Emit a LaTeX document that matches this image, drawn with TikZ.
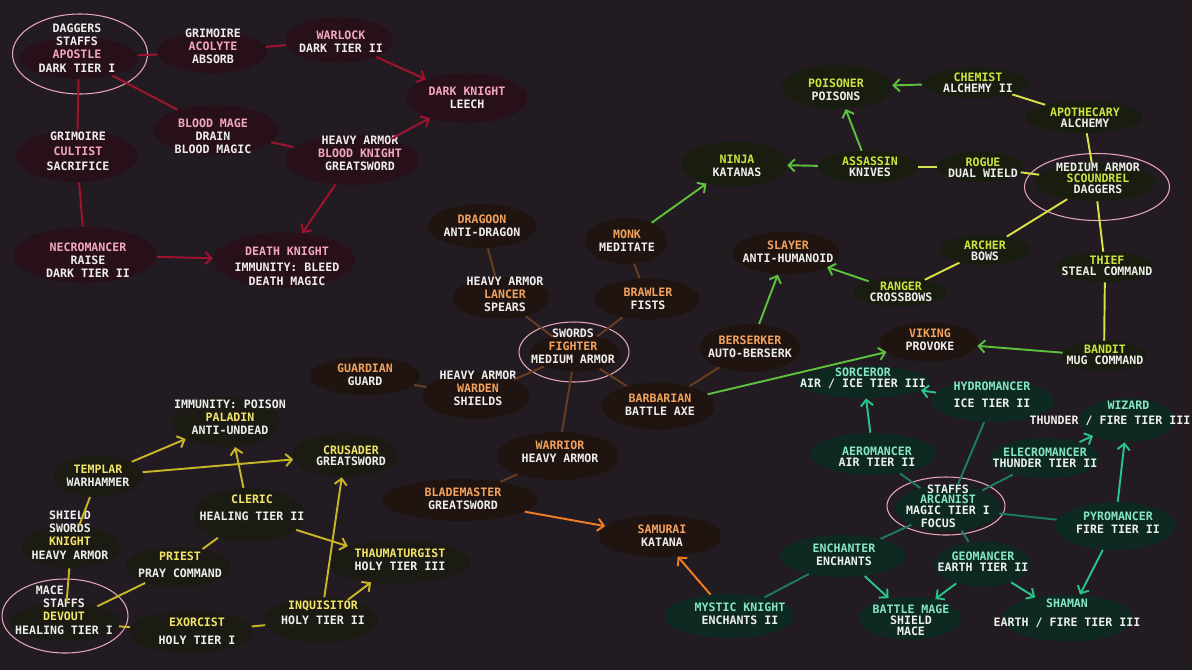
\documentclass[tikz,border=0pt]{standalone}
\usepackage{fontspec}
\setmonofont{DejaVu Sans Mono}
\usetikzlibrary{arrows.meta,positioning,shapes.geometric}

\definecolor{bgc}{HTML}{221B21}
\definecolor{txtc}{HTML}{EEEEEE}
\definecolor{dkfill}{HTML}{28101A}
\definecolor{dkname}{HTML}{F4A6C0}
\definecolor{dkline}{HTML}{A3122E}
\definecolor{ogfill}{HTML}{1F140F}
\definecolor{ogname}{HTML}{F2A25E}
\definecolor{ogline}{HTML}{6A3D20}
\definecolor{ogarrow}{HTML}{F07D22}
\definecolor{rgfill}{HTML}{181D0F}
\definecolor{rgname}{HTML}{CFE23F}
\definecolor{rgline}{HTML}{D9E146}
\definecolor{grarrow}{HTML}{5CC13C}
\definecolor{hlfill}{HTML}{1B1A13}
\definecolor{hlname}{HTML}{F2E36A}
\definecolor{hlline}{HTML}{C9B628}
\definecolor{mgfill}{HTML}{0E2921}
\definecolor{mgname}{HTML}{86E6C4}
\definecolor{mgline}{HTML}{1B7D60}
\definecolor{mgarrow}{HTML}{27C48C}
\definecolor{ringc}{HTML}{E6A6B8}

\newcommand\dkn[1]{\textcolor{dkname}{#1}}
\newcommand\ogn[1]{\textcolor{ogname}{#1}}
\newcommand\rgn[1]{\textcolor{rgname}{#1}}
\newcommand\hln[1]{\textcolor{hlname}{#1}}
\newcommand\mgn[1]{\textcolor{mgname}{#1}}

\tikzset{
  blob/.style={ellipse, inner sep=0pt, draw=none},
  sz/.style 2 args={minimum width=#1*0.02cm, minimum height=#2*0.02cm},
  dkcls/.style={blob, fill=dkfill},
  ogcls/.style={blob, fill=ogfill},
  rgcls/.style={blob, fill=rgfill},
  hlcls/.style={blob, fill=hlfill},
  mgcls/.style={blob, fill=mgfill},
  ring/.style={ellipse, draw=ringc, line width=0.6pt, inner sep=0pt},
  txt/.style={text=txtc, align=center, inner sep=0pt, font=\ttfamily\bfseries\fontsize{6.6}{7.5}\selectfont},
  tight/.style={font=\ttfamily\bfseries\fontsize{6.6}{6.2}\selectfont},
  link/.style={line width=1.1pt},
  arr/.style={link, -{Straight Barb[length=3.5pt,width=7pt]}},
  dkl/.style={link, draw=dkline}, dka/.style={arr, draw=dkline},
  ogl/.style={link, draw=ogline}, oga/.style={arr, draw=ogarrow},
  rgl/.style={link, draw=rgline}, gra/.style={arr, draw=grarrow},
  hll/.style={link, draw=hlline}, hla/.style={arr, draw=hlline},
  mgl/.style={link, draw=mgline}, mga/.style={arr, draw=mgarrow},
}

\begin{document}
\begin{tikzpicture}[x=0.02cm, y=-0.02cm]
\useasboundingbox (0,0) rectangle (1192,670);
\fill[bgc] (0,0) rectangle (1192,670);

% dark
\node[dkcls, sz={118}{42}] (apostle) at (79,58) {};
\node[ring, sz={135}{80}] (apostle-r) at (80,54) {};
\node[txt] (t-apostle) at (77,48) {DAGGERS\\STAFFS\\\dkn{APOSTLE}\\DARK TIER I};
\node[dkcls, sz={110}{42}] (acolyte) at (212,52) {};
\node[txt] (t-acolyte) at (213,46) {GRIMOIRE\\\dkn{ACOLYTE}\\ABSORB};
\node[dkcls, sz={108}{46}] (warlock) at (339,40) {};
\node[txt] (t-warlock) at (341,42) {\dkn{WARLOCK}\\DARK TIER II};
\node[dkcls, sz={125}{50}] (bloodmage) at (216,130) {};
\node[txt] (t-bloodmage) at (213,136) {\dkn{BLOOD MAGE}\\DRAIN\\BLOOD MAGIC};
\node[dkcls, sz={122}{52}] (cultist) at (77,156) {};
\node[txt] (t-cultist) at (78,151) {GRIMOIRE\\[1pt]\dkn{CULTIST}\\[1pt]SACRIFICE};
\node[dkcls, sz={135}{50}] (bloodknight) at (352,160) {};
\node[txt] (t-bloodknight) at (360,153) {HEAVY ARMOR\\\dkn{BLOOD KNIGHT}\\GREATSWORD};
\node[dkcls, sz={121}{50}] (darkknight) at (467,98) {};
\node[txt] (t-darkknight) at (467,98) {\dkn{DARK KNIGHT}\\LEECH};
\node[dkcls, sz={144}{56}] (necromancer) at (85,255) {};
\node[txt] (t-necromancer) at (88,260) {\dkn{NECROMANCER}\\RAISE\\DARK TIER II};
\node[dkcls, sz={142}{55}] (deathknight) at (284,260) {};
\node[txt] (t-deathknight) at (287,266) {\dkn{DEATH KNIGHT}\\[2pt]IMMUNITY: BLEED\\DEATH MAGIC};

% fighters
\node[ogcls, sz={108}{44}] (dragoon) at (482,226) {};
\node[txt] (t-dragoon) at (482,226) {\ogn{DRAGOON}\\ANTI-DRAGON};
\node[ogcls, sz={82}{46}] (monk) at (626,241) {};
\node[txt] (t-monk) at (627,241) {\ogn{MONK}\\MEDITATE};
\node[ogcls, sz={96}{42}] (lancer) at (501,298) {};
\node[txt] (t-lancer) at (505,294) {HEAVY ARMOR\\\ogn{LANCER}\\SPEARS};
\node[ogcls, sz={105}{41}] (brawler) at (647,299) {};
\node[txt] (t-brawler) at (648,299) {\ogn{BRAWLER}\\FISTS};
\node[ogcls, sz={90}{37}] (fighter) at (575,353) {};
\node[ring, sz={110}{60}] (fighter-r) at (574,352) {};
\node[txt] (t-fighter) at (573,346) {SWORDS\\\ogn{FIGHTER}\\MEDIUM ARMOR};
\node[ogcls, sz={110}{38}] (guardian) at (365,376) {};
\node[txt] (t-guardian) at (365,375) {\ogn{GUARDIAN}\\GUARD};
\node[ogcls, sz={107}{46}] (warden) at (476,396) {};
\node[txt] (t-warden) at (478,388) {HEAVY ARMOR\\\ogn{WARDEN}\\SHIELDS};
\node[ogcls, sz={100}{48}] (berserker) at (750,348) {};
\node[txt] (t-berserker) at (750,347) {\ogn{BERSERKER}\\AUTO-BERSERK};
\node[ogcls, sz={113}{47}] (barbarian) at (658,406) {};
\node[txt] (t-barbarian) at (660,405) {\ogn{BARBARIAN}\\BATTLE AXE};
\node[ogcls, sz={122}{48}] (warrior) at (558,456) {};
\node[txt] (t-warrior) at (560,452) {\ogn{WARRIOR}\\HEAVY ARMOR};
\node[ogcls, sz={154}{42}] (blademaster) at (460,500) {};
\node[txt] (t-blademaster) at (463,499) {\ogn{BLADEMASTER}\\GREATSWORD};
\node[ogcls, sz={123}{42}] (samurai) at (660,536) {};
\node[txt] (t-samurai) at (662,536) {\ogn{SAMURAI}\\KATANA};
\node[ogcls, sz={107}{43}] (slayer) at (786,253) {};
\node[txt] (t-slayer) at (788,252) {\ogn{SLAYER}\\ANTI-HUMANOID};
\node[ogcls, sz={98}{39}] (viking) at (929,342) {};
\node[txt] (t-viking) at (930,340) {\ogn{VIKING}\\PROVOKE};

% rogues
\node[rgcls, sz={106}{45}] (ninja) at (734,164) {};
\node[txt] (t-ninja) at (737,166) {\rgn{NINJA}\\KATANAS};
\node[rgcls, sz={110}{44}] (poisoner) at (837,87) {};
\node[txt] (t-poisoner) at (836,90) {\rgn{POISONER}\\POISONS};
\node[rgcls, sz={108}{30}] (chemist) at (976,83) {};
\node[txt, tight] (t-chemist) at (978,83) {\rgn{CHEMIST}\\ALCHEMY II};
\node[rgcls, sz={116}{32}] (apothecary) at (1084,117) {};
\node[txt, tight] (t-apothecary) at (1085,118) {\rgn{APOTHECARY}\\ALCHEMY};
\node[rgcls, sz={100}{32}] (assassin) at (868,167) {};
\node[txt, tight] (t-assassin) at (870,167) {\rgn{ASSASSIN}\\KNIVES};
\node[rgcls, sz={86}{30}] (rogue) at (980,167) {};
\node[txt, tight] (t-rogue) at (983,168) {\rgn{ROGUE}\\DUAL WIELD};
\node[rgcls, sz={120}{38}] (scoundrel) at (1095,182) {};
\node[ring, sz={145}{67}] (scoundrel-r) at (1097,187) {};
\node[txt, tight] (t-scoundrel) at (1098,178) {MEDIUM ARMOR\\\rgn{SCOUNDREL}\\DAGGERS};
\node[rgcls, sz={90}{30}] (archer) at (985,250) {};
\node[txt, tight] (t-archer) at (985,251) {\rgn{ARCHER}\\BOWS};
\node[rgcls, sz={96}{30}] (thief) at (1105,267) {};
\node[txt, tight] (t-thief) at (1107,266) {\rgn{THIEF}\\STEAL COMMAND};
\node[rgcls, sz={94}{28}] (ranger) at (900,292) {};
\node[txt, tight] (t-ranger) at (901,292) {\rgn{RANGER}\\CROSSBOWS};
\node[rgcls, sz={84}{30}] (bandit) at (1104,356) {};
\node[txt, tight] (t-bandit) at (1105,355) {\rgn{BANDIT}\\MUG COMMAND};

% holy
\node[hlcls, sz={108}{50}] (paladin) at (226,422) {};
\node[txt] (t-paladin) at (230,417) {IMMUNITY: POISON\\\hln{PALADIN}\\ANTI-UNDEAD};
\node[hlcls, sz={105}{44}] (crusader) at (345,455) {};
\node[txt, tight] (t-crusader) at (351,456) {\hln{CRUSADER}\\GREATSWORD};
\node[hlcls, sz={90}{42}] (templar) at (98,476) {};
\node[txt] (t-templar) at (98,476) {\hln{TEMPLAR}\\WARHAMMER};
\node[hlcls, sz={112}{54}] (cleric) at (249,515) {};
\node[txt] (t-cleric) at (252,508) {\hln{CLERIC}\\[2pt]HEALING TIER II};
\node[hlcls, sz={100}{42}] (knight) at (71,547) {};
\node[txt] (t-knight) at (70,535) {SHIELD\\SWORDS\\\hln{KNIGHT}\\HEAVY ARMOR};
\node[hlcls, sz={105}{40}] (priest) at (178,567) {};
\node[txt] (t-priest) at (180,565) {\hln{PRIEST}\\[2pt]PRAY COMMAND};
\node[hlcls, sz={110}{38}] (devout) at (65,622) {};
\node[ring, sz={126}{74}] (devout-r) at (65,616) {};
\node[txt] (t-devout) at (64,610) {MACE\hspace*{16pt}\\STAFFS\\\hln{DEVOUT}\\HEALING TIER I};
\node[hlcls, sz={125}{42}] (exorcist) at (191,632) {};
\node[txt] (t-exorcist) at (197,631) {\hln{EXORCIST}\\[3pt]HOLY TIER I};
\node[hlcls, sz={114}{45}] (inquisitor) at (321,620) {};
\node[txt] (t-inquisitor) at (323,613) {\hln{INQUISITOR}\\[1pt]HOLY TIER II};
\node[hlcls, sz={145}{43}] (thaumaturgist) at (398,562) {};
\node[txt] (t-thaumaturgist) at (400,560) {\hln{THAUMATURGIST}\\HOLY TIER III};

% magic
\node[mgcls, sz={132}{32}] (sorceror) at (864,382) {};
\node[txt, tight] (t-sorceror) at (863,378) {\mgn{SORCEROR}\\AIR / ICE TIER III};
\node[mgcls, sz={123}{42}] (hydromancer) at (993,401) {};
\node[txt] (t-hydromancer) at (992,395) {\mgn{HYDROMANCER}\\[2pt]ICE TIER II};
\node[mgcls, sz={95}{44}] (wizard) at (1127,420) {};
\node[txt] (t-wizard) at (1110,413) {\hspace*{21pt}\mgn{WIZARD}\\[1pt]THUNDER / FIRE TIER III};
\node[mgcls, sz={126}{42}] (aeromancer) at (873,454) {};
\node[txt, tight] (t-aeromancer) at (877,457) {\mgn{AEROMANCER}\\AIR TIER II};
\node[mgcls, sz={110}{40}] (elecromancer) at (1045,458) {};
\node[txt, tight] (t-elecromancer) at (1045,458) {\mgn{ELECROMANCER}\\THUNDER TIER II};
\node[mgcls, sz={105}{46}] (arcanist) at (948,508) {};
\node[ring, sz={118}{58}] (arcanist-r) at (946,506) {};
\node[txt, tight] (t-arcanist) at (948,506) {STAFFS\\\mgn{ARCANIST}\\MAGIC TIER I\\[1pt]FOCUS\hspace*{11pt}};
\node[mgcls, sz={120}{48}] (pyromancer) at (1115,526) {};
\node[txt] (t-pyromancer) at (1118,523) {\mgn{PYROMANCER}\\FIRE TIER II};
\node[mgcls, sz={126}{42}] (enchanter) at (843,556) {};
\node[txt] (t-enchanter) at (844,555) {\mgn{ENCHANTER}\\ENCHANTS};
\node[mgcls, sz={96}{45}] (geomancer) at (982,564) {};
\node[txt, tight] (t-geomancer) at (983,562) {\mgn{GEOMANCER}\\EARTH TIER II};
\node[mgcls, sz={102}{43}] (battlemage) at (910,618) {};
\node[txt, tight] (t-battlemage) at (911,620) {\mgn{BATTLE MAGE}\\SHIELD\\MACE};
\node[mgcls, sz={130}{47}] (shaman) at (1068,618) {};
\node[txt] (t-shaman) at (1067,613) {\mgn{SHAMAN}\\[3pt]EARTH / FIRE TIER III};
\node[mgcls, sz={130}{44}] (mysticknight) at (729,616) {};
\node[txt] (t-mysticknight) at (740,614) {\mgn{MYSTIC KNIGHT}\\ENCHANTS II};

% dark links
\draw[dkl] (apostle) -- (acolyte);
\draw[dkl] (acolyte) -- (warlock);
\draw[dkl] (apostle) -- (bloodmage);
\draw[dkl] (bloodmage) -- (bloodknight);
\draw[dkl] (apostle) -- (cultist);
\draw[dkl] (cultist) -- (necromancer);
\draw[dka] (warlock) -- (darkknight);
\draw[dka] (bloodknight) -- (darkknight);
\draw[dka] (bloodknight) -- (deathknight);
\draw[dka] (necromancer) -- (deathknight);

% fighter links
\draw[ogl] (dragoon) -- (lancer);
\draw[ogl] (lancer) -- (fighter);
\draw[ogl] (monk) -- (brawler);
\draw[ogl] (brawler) -- (fighter);
\draw[ogl] (fighter) -- (warden);
\draw[ogl] (guardian) -- (warden);
\draw[ogl] (fighter) -- (warrior);
\draw[ogl] (fighter) -- (barbarian);
\draw[ogl] (barbarian) -- (berserker);
\draw[ogl] (warrior) -- (blademaster);
\draw[oga] (blademaster) -- (samurai);
\draw[oga] (mysticknight) -- (samurai);
\draw[gra] (monk) -- (ninja);
\draw[gra] (berserker) -- (slayer);
\draw[gra] (barbarian) -- (viking);

% rogue links
\draw[rgl] (chemist) -- (apothecary);
\draw[rgl] (apothecary) -- (scoundrel);
\draw[rgl] (rogue) -- (assassin);
\draw[rgl] (rogue) -- (scoundrel);
\draw[rgl] (scoundrel) -- (archer);
\draw[rgl] (scoundrel) -- (thief);
\draw[rgl] (archer) -- (ranger);
\draw[rgl] (thief) -- (bandit);
\draw[gra] (chemist) -- (poisoner);
\draw[gra] (assassin) -- (poisoner);
\draw[gra] (assassin) -- (ninja);
\draw[gra] (ranger) -- (slayer);
\draw[gra] (bandit) -- (viking);

% holy links
\draw[hll] (templar) -- (knight);
\draw[hll] (knight) -- (devout);
\draw[hll] (devout) -- (priest);
\draw[hll] (priest) -- (cleric);
\draw[hll] (devout) -- (exorcist);
\draw[hll] (exorcist) -- (inquisitor);
\draw[hla] (templar) -- (paladin);
\draw[hla] (templar) -- (crusader);
\draw[hla] (cleric) -- (paladin.-70);
\draw[hla] (cleric) -- (thaumaturgist);
\draw[hla] (inquisitor) -- (crusader);
\draw[hla] (inquisitor) -- (thaumaturgist);

% magic links
\draw[mgl] (hydromancer) -- (arcanist);
\draw[mgl] (aeromancer) -- (arcanist);
\draw[mgl] (elecromancer) -- (arcanist);
\draw[mgl] (arcanist) -- (pyromancer);
\draw[mgl] (arcanist) -- (enchanter);
\draw[mgl] (arcanist) -- (geomancer);
\draw[mgl] (enchanter) -- (mysticknight);
\draw[mga] (aeromancer) -- (sorceror);
\draw[mga] (hydromancer) -- (sorceror);
\draw[mga] (elecromancer) -- (wizard);
\draw[mga] (pyromancer) -- (wizard);
\draw[mga] (enchanter) -- (battlemage);
\draw[mga] (geomancer) -- (battlemage);
\draw[mga] (geomancer) -- (shaman);
\draw[mga] (pyromancer) -- (shaman);
\end{tikzpicture}
\end{document}
